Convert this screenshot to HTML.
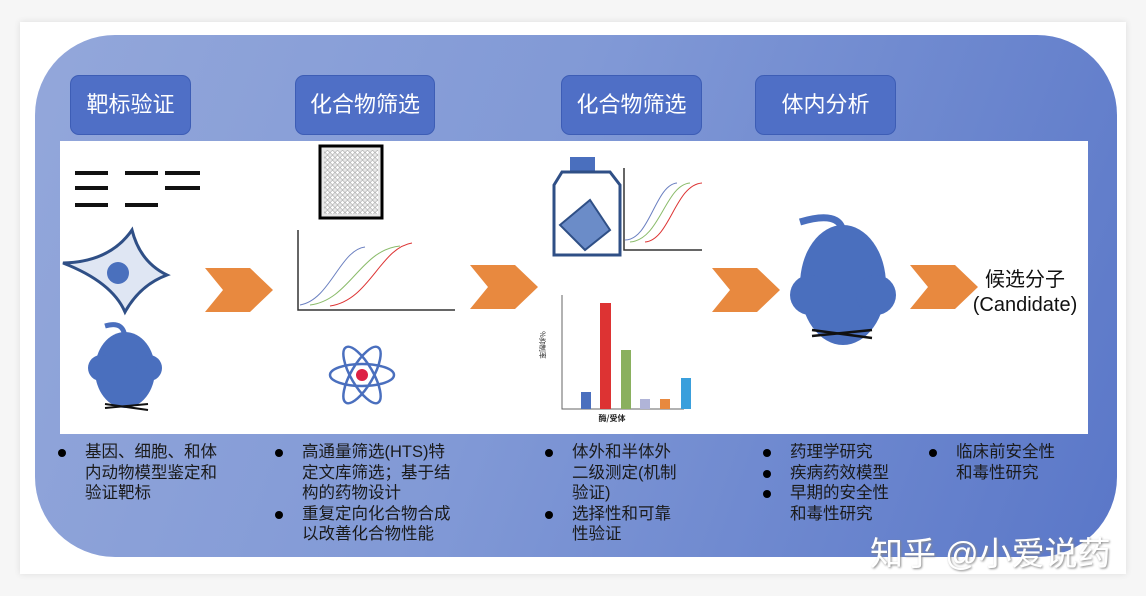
<!DOCTYPE html>
<html><head><meta charset="utf-8"><style>
body{margin:0;width:1146px;height:596px;background:#f6f6f6;overflow:hidden;font-family:"Liberation Sans","Noto Sans CJK SC",sans-serif;position:relative}
.card{position:absolute;left:20px;top:22px;width:1106px;height:552px;background:#fff;box-shadow:0 0 6px #ddd}
.blue{position:absolute;left:35px;top:35px;width:1082px;height:522px;border-radius:80px;background:linear-gradient(110deg,#93a7da 0%,#8199d6 45%,#5a77c8 100%)}
.inner{position:absolute;left:60px;top:141px;width:1028px;height:293px;background:#fff}
.hd{position:absolute;top:75px;height:58px;background:#4f6fc6;border:1px solid #3d5db5;border-radius:9px;color:#fff;font-size:22px;line-height:58px;text-align:center}
.bl{position:absolute;font-size:16.5px;line-height:20.5px;color:#1a1a1a}
.bl div{position:relative;padding-left:27px}
.bl div.b:before{content:"";position:absolute;left:0;top:7px;width:8px;height:8px;border-radius:50%;background:#000}
.wm{position:absolute;left:870px;top:527px;font-size:33px;color:#fff;text-shadow:1px 1px 2px #888}
</style></head><body>
<div class="card"></div>
<div class="blue"></div>
<div class="inner"></div>
<div class="hd" style="left:70px;width:119px">靶标验证</div>
<div class="hd" style="left:295px;width:138px">化合物筛选</div>
<div class="hd" style="left:561px;width:139px">化合物筛选</div>
<div class="hd" style="left:755px;width:139px">体内分析</div>
<svg style="position:absolute;left:0;top:0" width="1146" height="596">
<defs><polygon id="ar" points="0,0 45,0 68,22 45,44 0,44 18,22" fill="#e8893f"/></defs>
<g stroke="#111" stroke-width="4"><line x1="75" y1="173" x2="108" y2="173"/><line x1="75" y1="188" x2="108" y2="188"/><line x1="75" y1="205" x2="108" y2="205"/><line x1="125" y1="173" x2="158" y2="173"/><line x1="125" y1="205" x2="158" y2="205"/><line x1="165" y1="173" x2="200" y2="173"/><line x1="165" y1="188" x2="200" y2="188"/></g>
<path d="M63,263 Q110,262 132,230 Q140,262 167,275 Q140,285 125,312 Q112,282 63,263Z" fill="#dfe6f3" stroke="#2f4f86" stroke-width="3"/>
<circle cx="118" cy="273" r="11" fill="#4a70bd"/>
<g fill="#4a6fbe"><ellipse cx="125" cy="370" rx="30" ry="38"/><circle cx="101" cy="368" r="13"/><circle cx="149" cy="368" r="13"/><path d="M125,340 Q125,320 105,326" stroke="#4a6fbe" stroke-width="5" fill="none"/></g>
<g stroke="#111" stroke-width="2"><line x1="105" y1="408" x2="148" y2="404"/><line x1="105" y1="404" x2="148" y2="410"/></g>
<g fill="#4a6fbe"><ellipse cx="843" cy="285" rx="43" ry="60"/><circle cx="810" cy="295" r="20"/><circle cx="876" cy="295" r="20"/><path d="M843,232 Q840,210 800,222" stroke="#4a6fbe" stroke-width="7" fill="none"/></g>
<g stroke="#111" stroke-width="2.5"><line x1="812" y1="336" x2="872" y2="330"/><line x1="812" y1="330" x2="872" y2="338"/></g>
<rect x="320" y="146" width="62" height="72" fill="#e8e8e8" stroke="#000" stroke-width="3"/>
<pattern id="dots" width="5" height="5" patternUnits="userSpaceOnUse"><circle cx="2.5" cy="2.5" r="1.8" fill="#fff" stroke="#888" stroke-width=".5"/></pattern>
<rect x="324" y="150" width="54" height="64" fill="url(#dots)"/>
<path d="M298,230 V310 H455" stroke="#333" stroke-width="1.5" fill="none"/>
<path d="M300,305 C330,300 340,250 365,247" stroke="#6a7fc0" fill="none"/>
<path d="M310,305 C350,300 360,250 400,246" stroke="#8abb6a" fill="none"/>
<path d="M330,306 C370,300 380,248 412,243" stroke="#d33" fill="none"/>
<g fill="none" stroke="#4a6fbe" stroke-width="2.5"><ellipse cx="362" cy="375" rx="32" ry="11"/><ellipse cx="362" cy="375" rx="32" ry="11" transform="rotate(60 362 375)"/><ellipse cx="362" cy="375" rx="32" ry="11" transform="rotate(-60 362 375)"/></g>
<circle cx="362" cy="375" r="6" fill="#d24"/>
<rect x="570" y="157" width="25" height="15" fill="#4a6fbe"/>
<path d="M562,172 H610 L620,185 V255 H554 V185Z" fill="#fff" stroke="#2f4f86" stroke-width="3"/>
<path d="M560,225 L590,200 L610,230 L585,250Z" fill="#6b8cc8" stroke="#2f4f86" stroke-width="2"/>
<path d="M624,168 V250 H702" stroke="#333" stroke-width="1.5" fill="none"/>
<path d="M625,240 C650,240 655,185 677,183" stroke="#6a7fc0" fill="none"/>
<path d="M630,242 C660,240 665,185 690,183" stroke="#8abb6a" fill="none"/>
<path d="M645,242 C670,240 675,185 702,183" stroke="#d33" fill="none"/>
<path d="M562,295 V409 H684" stroke="#666" stroke-width="1" fill="none"/>
<rect x="581" y="392" width="10" height="17" fill="#4a6fbe"/>
<rect x="600" y="303" width="11" height="106" fill="#d33"/>
<rect x="621" y="350" width="10" height="59" fill="#8ab05e"/>
<rect x="640" y="399" width="10" height="10" fill="#b0b4d8"/>
<rect x="660" y="399" width="10" height="10" fill="#e8893f"/>
<rect x="681" y="378" width="10" height="31" fill="#3a9fdc"/>
<text x="612" y="421" font-size="8" font-family="Noto Sans CJK SC,sans-serif" fill="#222" text-anchor="middle" font-weight="bold">酶/受体</text>
<text x="540" y="345" font-size="7" font-family="Noto Sans CJK SC,sans-serif" fill="#222" transform="rotate(90 540 345)" text-anchor="middle">%抑制率</text>
<use href="#ar" x="205" y="268"/><use href="#ar" x="470" y="265"/><use href="#ar" x="712" y="268"/><use href="#ar" x="910" y="265"/>
</svg>
<div style="position:absolute;left:962px;top:268px;width:126px;text-align:center;font-size:20px;line-height:25px;color:#111">候选分子<br>(Candidate)</div>
<div class="bl" style="left:58px;top:442px;width:180px"><div class="b">基因、细胞、和体<br>内动物模型鉴定和<br>验证靶标</div></div>
<div class="bl" style="left:275px;top:442px;width:200px"><div class="b">高通量筛选(HTS)特<br>定文库筛选；基于结<br>构的药物设计</div><div class="b">重复定向化合物合成<br>以改善化合物性能</div></div>
<div class="bl" style="left:545px;top:442px;width:200px"><div class="b">体外和半体外<br>二级测定(机制<br>验证)</div><div class="b">选择性和可靠<br>性验证</div></div>
<div class="bl" style="left:763px;top:442px;width:200px"><div class="b">药理学研究</div><div class="b">疾病药效模型</div><div class="b">早期的安全性<br>和毒性研究</div></div>
<div class="bl" style="left:929px;top:442px;width:180px"><div class="b">临床前安全性<br>和毒性研究</div></div>
<div class="wm">知乎 @小爱说药</div>
</body></html>
